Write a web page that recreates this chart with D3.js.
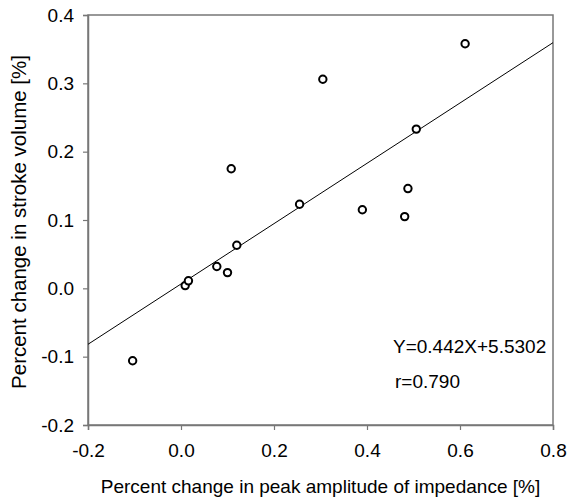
<!DOCTYPE html>
<html>
<head>
<meta charset="utf-8">
<script src="https://cdn.jsdelivr.net/npm/d3@7"></script>
<style>
  body { margin: 0; background: #fff; }
  svg text { font-family: Arial, "Liberation Sans", sans-serif; fill: #000; }
</style>
</head>
<body>
<div id="chart"></div>
<script>
// data
const impedanceChange = [-0.104, 0.009, 0.016, 0.077, 0.100, 0.108, 0.120, 0.255, 0.305, 0.390, 0.481, 0.488, 0.506, 0.611];
const strokeVolumeChange = [-0.106, 0.004, 0.011, 0.032, 0.023, 0.175, 0.063, 0.123, 0.306, 0.115, 0.105, 0.146, 0.233, 0.358];
const xTicks = [-0.2, 0.0, 0.2, 0.4, 0.6, 0.8];
const yTicks = [-0.2, -0.1, 0.0, 0.1, 0.2, 0.3, 0.4];
const fitSlope = 0.4414;
const fitIntercept = 0.0064;
const equationLabel = 'Y=0.442X+5.5302';
const rLabel = 'r=0.790';

const width = 568, height = 501;
const margin = { top: 15, right: 15, bottom: 76, left: 88 };
const innerW = width - margin.left - margin.right;
const innerH = height - margin.top - margin.bottom;
const fontSize = 19;

const svg = d3.select('#chart').append('svg')
  .attr('width', width)
  .attr('height', height);

const g = svg.append('g')
  .attr('transform', `translate(${margin.left},${margin.top})`);

const x = d3.scaleLinear().domain([-0.2, 0.8]).range([0, innerW]);
const y = d3.scaleLinear().domain([-0.2, 0.4]).range([innerH, 0]);

const axisColor = '#777';
const fmt = d => d3.format('.1f')(d).replace('−', '-');

// frame
g.append('rect')
  .attr('width', innerW)
  .attr('height', innerH)
  .attr('fill', 'none')
  .attr('stroke', axisColor)
  .attr('stroke-width', 1.5);

const xAxis = g.append('g')
  .attr('transform', `translate(0,${innerH})`)
  .call(d3.axisBottom(x).tickValues(xTicks).tickFormat(fmt).tickSize(5).tickPadding(14));

const yAxis = g.append('g')
  .call(d3.axisLeft(y).tickValues(yTicks).tickFormat(fmt).tickSize(5).tickPadding(9));

[xAxis, yAxis].forEach(a => {
  a.select('.domain').attr('stroke', axisColor).attr('stroke-width', 1.5);
  a.selectAll('.tick line').attr('stroke', axisColor).attr('stroke-width', 1.2);
  a.selectAll('.tick text')
    .attr('font-size', fontSize)
    .attr('font-family', 'Arial, "Liberation Sans", sans-serif')
    .attr('fill', '#000');
});

// regression line
g.append('line')
  .attr('x1', x(-0.2))
  .attr('y1', y(fitIntercept + fitSlope * -0.2))
  .attr('x2', x(0.8))
  .attr('y2', y(fitIntercept + fitSlope * 0.8))
  .attr('stroke', '#000')
  .attr('stroke-width', 1);

// points
g.selectAll('.pt')
  .data(impedanceChange)
  .enter().append('circle')
  .attr('class', 'pt')
  .attr('cx', d => x(d))
  .attr('cy', (d, i) => y(strokeVolumeChange[i]))
  .attr('r', 3.7)
  .attr('fill', '#fff')
  .attr('stroke', '#000')
  .attr('stroke-width', 2);

// fit annotation
g.append('text')
  .attr('x', 393 - margin.left)
  .attr('y', 353 - margin.top)
  .attr('font-size', fontSize)
  .text(equationLabel);

g.append('text')
  .attr('x', 395 - margin.left)
  .attr('y', 388 - margin.top)
  .attr('font-size', fontSize)
  .text(rLabel);

// axis titles
svg.append('text')
  .attr('x', margin.left + innerW / 2)
  .attr('y', 493)
  .attr('text-anchor', 'middle')
  .attr('font-size', fontSize)
  .text('Percent change in peak amplitude of impedance [%]');

svg.append('text')
  .attr('transform', `translate(26,${margin.top + innerH / 2 + 2}) rotate(-90)`)
  .attr('text-anchor', 'middle')
  .attr('font-size', 20.5)
  .text('Percent change in stroke volume [%]');
</script>
</body>
</html>
